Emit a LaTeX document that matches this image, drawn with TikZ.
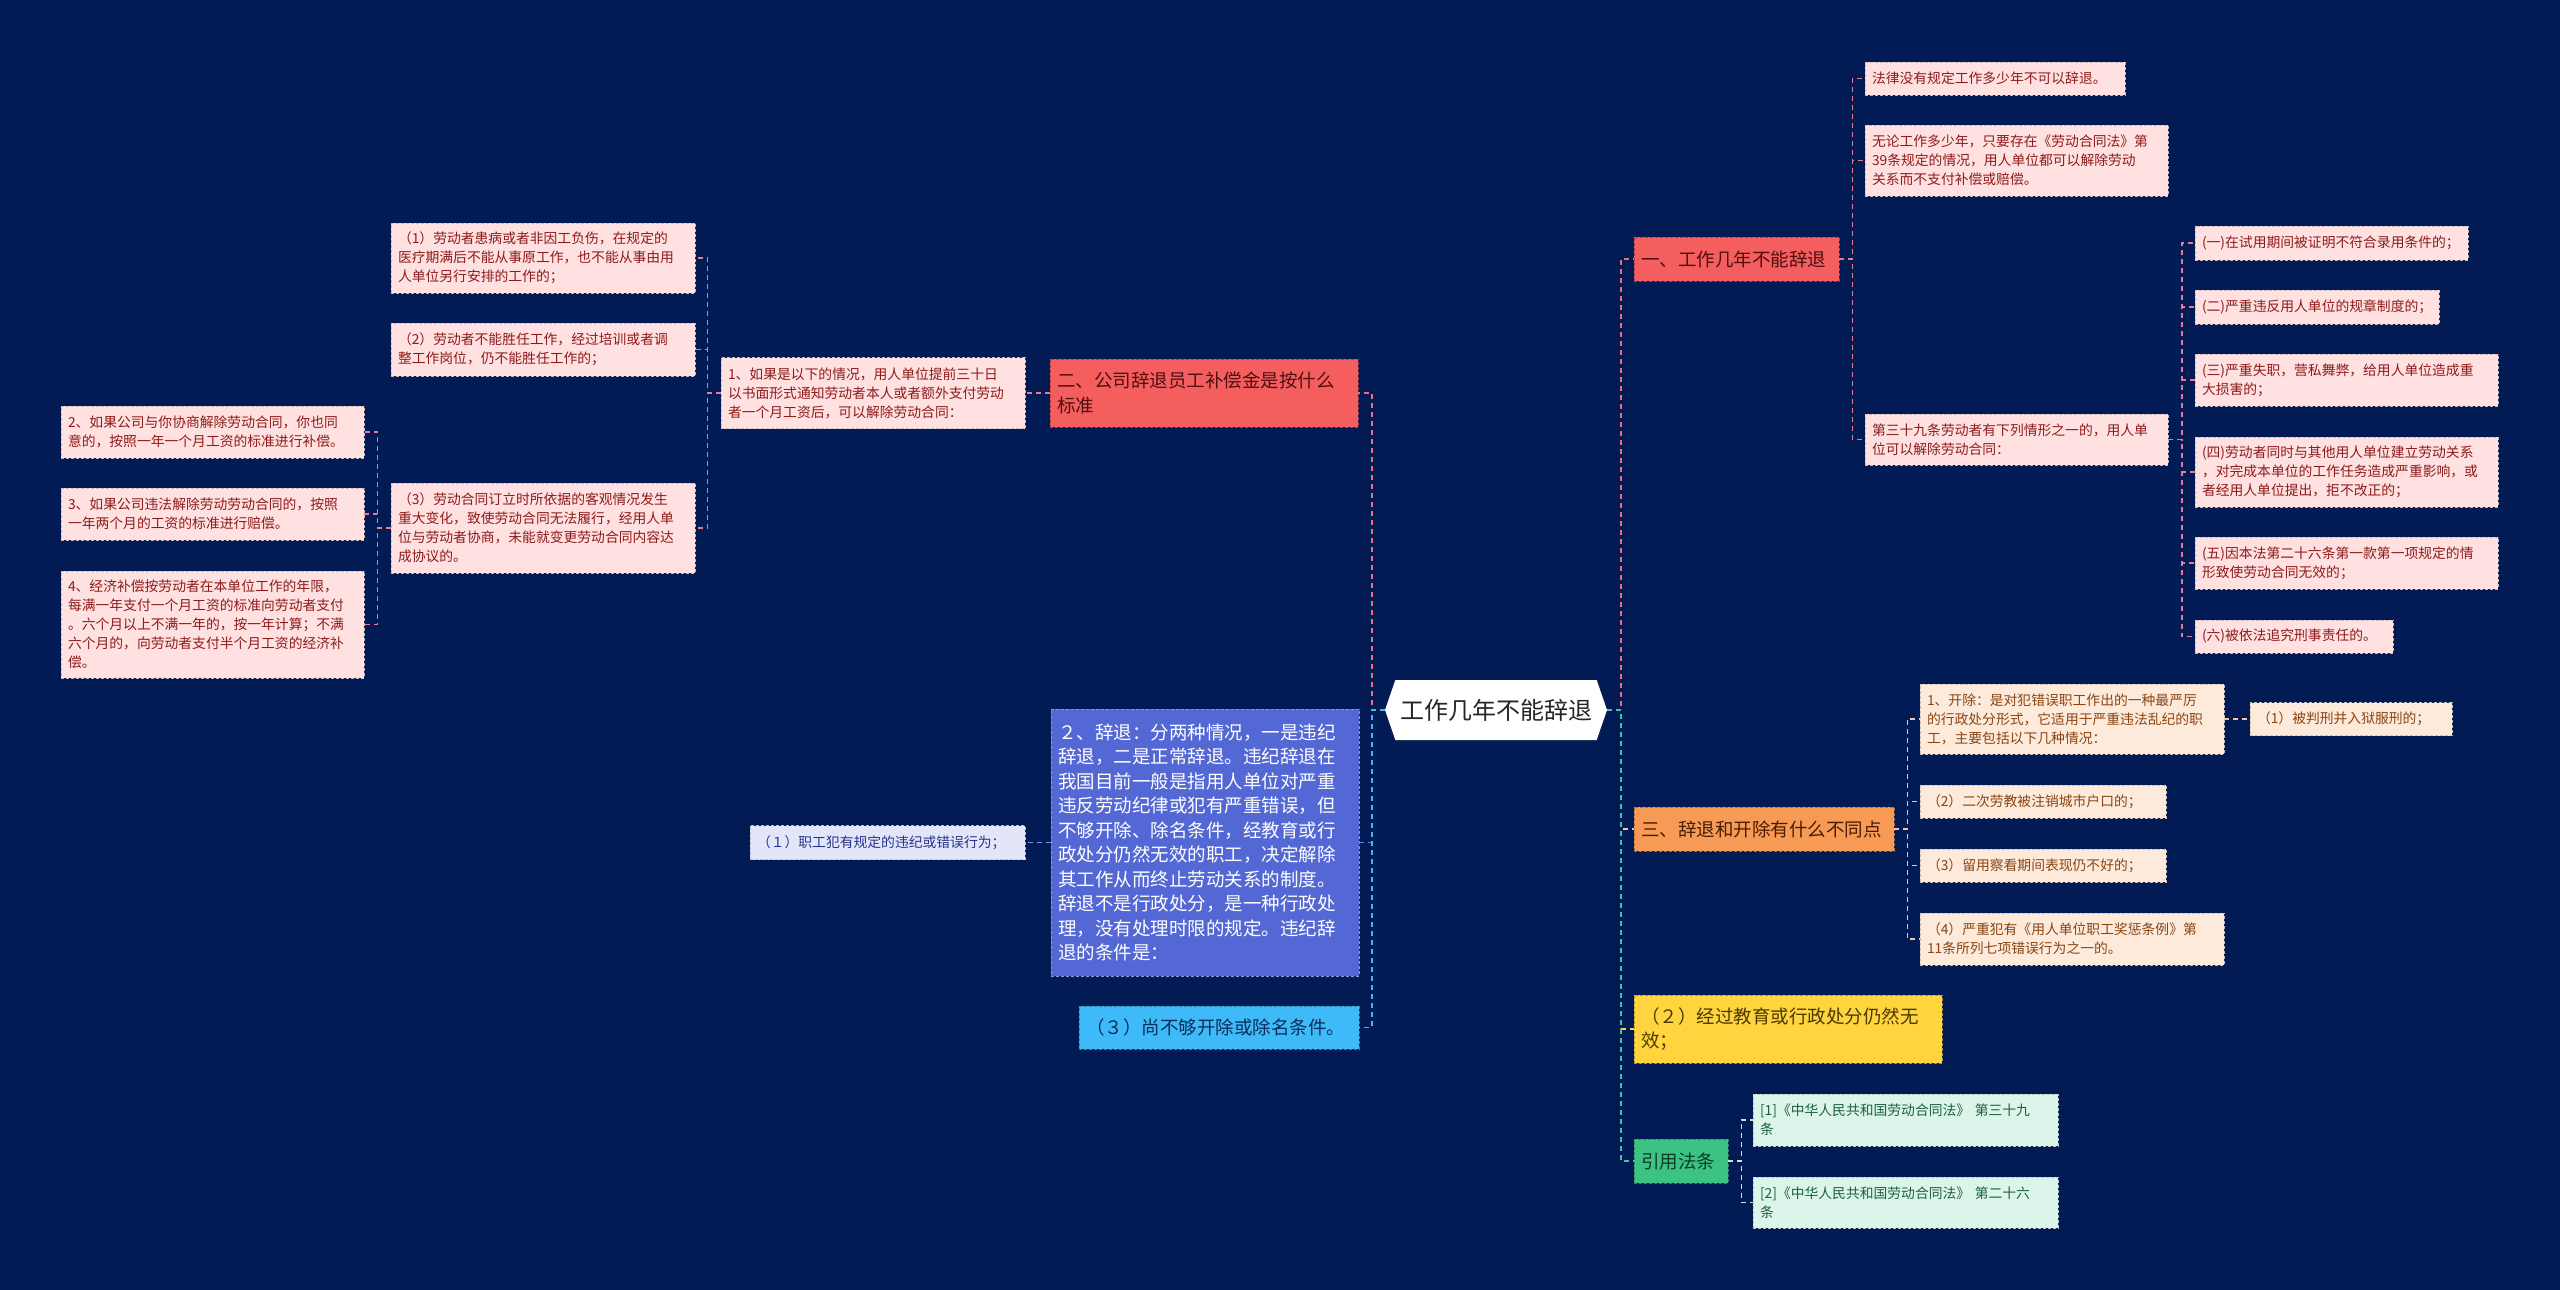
\documentclass[tikz,border=0pt]{standalone}
\usepackage{fontspec}
\setmainfont{Noto Sans CJK SC}
\usetikzlibrary{shapes.symbols,calc}
\definecolor{bg}{RGB}{2,27,84}
\definecolor{redfill}{HTML}{F55E5E}\definecolor{redtext}{HTML}{4D0F0F}
\definecolor{pinkfill}{HTML}{FFE1E1}\definecolor{pinktext}{HTML}{8E1B1B}
\definecolor{bluefill}{HTML}{5468D5}
\definecolor{lavfill}{HTML}{E2E6F8}\definecolor{lavtext}{HTML}{27348B}
\definecolor{cyanfill}{HTML}{3DBAF7}\definecolor{cyantext}{HTML}{0C2D5A}
\definecolor{orangefill}{HTML}{F79A56}\definecolor{orangetext}{HTML}{4A1C00}
\definecolor{peachfill}{HTML}{FDEADB}\definecolor{peachtext}{HTML}{8A4513}
\definecolor{yellowfill}{HTML}{FFD43F}\definecolor{yellowtext}{HTML}{4B3A00}
\definecolor{greenfill}{HTML}{3CC384}\definecolor{greentext}{HTML}{093D22}
\definecolor{mintfill}{HTML}{DCF5EA}\definecolor{minttext}{HTML}{1D6040}
\definecolor{cpink}{HTML}{E8707E}
\definecolor{cpinkl}{HTML}{E27D8E}
\definecolor{cblue}{HTML}{5B7BE0}
\definecolor{ccyan}{HTML}{3DB9F5}
\definecolor{cgreen}{HTML}{3CC7A0}
\definecolor{corange}{HTML}{F5C6A5}
\definecolor{cmint}{HTML}{BFE8D5}
\definecolor{clav}{HTML}{7F92E0}
\tikzset{
  nbox/.style={rectangle, dashed, dash pattern=on 3pt off 2pt, line width=0.9pt, inner xsep=7pt, inner ysep=0pt, align=left, anchor=center},
  smallfont/.style={font=\fontsize{13.8}{19}\selectfont},
  bigfont/.style={font=\fontsize{18.5}{24.5}\selectfont},
  redbox/.style={nbox, bigfont, fill=redfill, draw=redfill!70!black, text=redtext},
  pinkbox/.style={nbox, smallfont, fill=pinkfill, draw=pinkfill!60!gray, text=pinktext},
  bluebox/.style={nbox, bigfont, fill=bluefill, draw=bluefill!70!white, text=white},
  lavbox/.style={nbox, smallfont, fill=lavfill, draw=lavfill!60!gray, text=lavtext},
  cyanbox/.style={nbox, bigfont, fill=cyanfill, draw=cyanfill!70!black, text=cyantext},
  orangebox/.style={nbox, bigfont, fill=orangefill, draw=orangefill!70!black, text=orangetext},
  peachbox/.style={nbox, smallfont, fill=peachfill, draw=peachfill!60!gray, text=peachtext},
  yellowbox/.style={nbox, bigfont, fill=yellowfill, draw=yellowfill!70!black, text=yellowtext},
  greenbox/.style={nbox, bigfont, fill=greenfill, draw=greenfill!70!black, text=greentext},
  mintbox/.style={nbox, smallfont, fill=mintfill, draw=mintfill!60!gray, text=minttext},
  conn/.style={dash pattern=on 5pt off 4pt, line width=1.6pt},
}
\begin{document}
\begin{tikzpicture}[x=1pt,y=-1pt]
\useasboundingbox (0,0) rectangle (2560,1290);
\fill[bg] (0,0) rectangle (2560,1290);

% centre
\node[signal, signal to=west and east, signal pointer angle=142, fill=white, minimum width=222pt, minimum height=60pt, inner sep=0pt, text=black!85, font=\fontsize{24}{28}\selectfont] (C) at (1496,710) {工作几年不能辞退};

% left side
\node[redbox, text width=294pt, minimum height=68pt] (L1) at (1204,393) {二、公司辞退员工补偿金是按什么\\标准};
\node[pinkbox, text width=290pt, minimum height=71pt] (L1a) at (873,393) {1、如果是以下的情况，用人单位提前三十日\\以书面形式通知劳动者本人或者额外支付劳动\\者一个月工资后，可以解除劳动合同：};
\node[pinkbox, text width=290pt, minimum height=70pt] (L1a1) at (543,258) {（1）劳动者患病或者非因工负伤，在规定的\\医疗期满后不能从事原工作，也不能从事由用\\人单位另行安排的工作的；};
\node[pinkbox, text width=290pt, minimum height=53pt] (L1a2) at (543,349.5) {（2）劳动者不能胜任工作，经过培训或者调\\整工作岗位，仍不能胜任工作的；};
\node[pinkbox, text width=290pt, minimum height=90pt] (L1a3) at (543,528) {（3）劳动合同订立时所依据的客观情况发生\\重大变化，致使劳动合同无法履行，经用人单\\位与劳动者协商，未能就变更劳动合同内容达\\成协议的。};
\node[pinkbox, text width=289pt, minimum height=52pt] (P2) at (212.5,432) {2、如果公司与你协商解除劳动合同，你也同\\意的，按照一年一个月工资的标准进行补偿。};
\node[pinkbox, text width=289pt, minimum height=52pt] (P3) at (212.5,514) {3、如果公司违法解除劳动劳动合同的，按照\\一年两个月的工资的标准进行赔偿。};
\node[pinkbox, text width=289pt, minimum height=107pt] (P4) at (212.5,624.5) {4、经济补偿按劳动者在本单位工作的年限，\\每满一年支付一个月工资的标准向劳动者支付\\。六个月以上不满一年的，按一年计算；不满\\六个月的，向劳动者支付半个月工资的经济补\\偿。};
\node[bluebox, text width=294pt, minimum height=267pt] (L2) at (1205,842.5) {２、辞退：分两种情况，一是违纪\\辞退，二是正常辞退。违纪辞退在\\我国目前一般是指用人单位对严重\\违反劳动纪律或犯有严重错误，但\\不够开除、除名条件，经教育或行\\政处分仍然无效的职工，决定解除\\其工作从而终止劳动关系的制度。\\辞退不是行政处分，是一种行政处\\理，没有处理时限的规定。违纪辞\\退的条件是：};
\node[lavbox, text width=261pt, minimum height=34pt] (L2a) at (887.5,842.5) {（１）职工犯有规定的违纪或错误行为；};
\node[cyanbox, text width=266pt, minimum height=43pt] (L3) at (1219,1027.5) {（３）尚不够开除或除名条件。};

% right side
\node[redbox, text width=191pt, minimum height=44pt] (R1) at (1736.5,259) {一、工作几年不能辞退};
\node[pinkbox, text width=246pt, minimum height=33pt] (R1a) at (1995,78.5) {法律没有规定工作多少年不可以辞退。};
\node[pinkbox, text width=289pt, minimum height=71pt] (R1b) at (2016.5,160.5) {无论工作多少年，只要存在《劳动合同法》第\\39条规定的情况，用人单位都可以解除劳动\\关系而不支付补偿或赔偿。};
\node[pinkbox, text width=289pt, minimum height=51pt] (R1c) at (2016.5,439.5) {第三十九条劳动者有下列情形之一的，用人单\\位可以解除劳动合同：};
\node[pinkbox, text width=259pt, minimum height=34pt] (R1c1) at (2331.5,243) {(一)在试用期间被证明不符合录用条件的；};
\node[pinkbox, text width=230pt, minimum height=34pt] (R1c2) at (2317,307) {(二)严重违反用人单位的规章制度的；};
\node[pinkbox, text width=289pt, minimum height=52pt] (R1c3) at (2346.5,380) {(三)严重失职，营私舞弊，给用人单位造成重\\大损害的；};
\node[pinkbox, text width=289pt, minimum height=70pt] (R1c4) at (2346.5,472) {(四)劳动者同时与其他用人单位建立劳动关系\\，对完成本单位的工作任务造成严重影响，或\\者经用人单位提出，拒不改正的；};
\node[pinkbox, text width=289pt, minimum height=52pt] (R1c5) at (2346.5,563) {(五)因本法第二十六条第一款第一项规定的情\\形致使劳动合同无效的；};
\node[pinkbox, text width=184pt, minimum height=33pt] (R1c6) at (2294,636.5) {(六)被依法追究刑事责任的。};

\node[orangebox, text width=246pt, minimum height=44pt] (R3) at (1764,829) {三、辞退和开除有什么不同点};
\node[peachbox, text width=290pt, minimum height=70pt] (R3a) at (2072,719) {1、开除：是对犯错误职工作出的一种最严厉\\的行政处分形式，它适用于严重违法乱纪的职\\工，主要包括以下几种情况：};
\node[peachbox, text width=188pt, minimum height=33pt] (R3a1) at (2351,719) {（1）被判刑并入狱服刑的；};
\node[peachbox, text width=232pt, minimum height=33pt] (R3b) at (2043,801.5) {（2）二次劳教被注销城市户口的；};
\node[peachbox, text width=232pt, minimum height=33pt] (R3c) at (2043,865.5) {（3）留用察看期间表现仍不好的；};
\node[peachbox, text width=290pt, minimum height=52pt] (R3d) at (2072,939) {（4）严重犯有《用人单位职工奖惩条例》第\\11条所列七项错误行为之一的。};

\node[yellowbox, text width=294pt, minimum height=68pt] (R4) at (1788,1029) {（２）经过教育或行政处分仍然无\\效；};
\node[greenbox, text width=80pt, minimum height=44pt] (R5) at (1681,1161) {引用法条};
\node[mintbox, text width=291pt, minimum height=52pt] (R5a) at (1905.5,1120) {[1]《中华人民共和国劳动合同法》 第三十九\\条};
\node[mintbox, text width=291pt, minimum height=51pt] (R5b) at (1905.5,1202.5) {[2]《中华人民共和国劳动合同法》 第二十六\\条};

% connectors from centre, left
\draw[conn, cpink] (C.west) -- ++(-13,0) |- (L1.east);
\draw[conn, cblue] (C.west) -- ++(-13,0) |- (L2.east);
\draw[conn, ccyan] (C.west) -- ++(-13,0) |- (L3.east);
% connectors from centre, right
\draw[conn, cpink] (C.east) -- ++(14,0) |- (R1.west);
\draw[conn, corange] (C.east) -- ++(14,0) |- (R3.west);
\draw[conn, yellowfill] (C.east) -- ++(14,0) |- (R4.west);
\draw[conn, cgreen] (C.east) -- ++(14,0) |- (R5.west);

% left subtrees
\draw[conn, cpinkl] (L1.west) -- (L1a.east);
\foreach \n in {L1a1,L1a2,L1a3}{\draw[conn, cpinkl] (L1a.west) -- ++(-13,0) |- (\n.east);}
\foreach \n in {P2,P3,P4}{\draw[conn, cpinkl] (L1a3.west) -- ++(-13,0) |- (\n.east);}
\draw[conn, clav] (L2.west) -- (L2a.east);

% right subtrees
\foreach \n in {R1a,R1b,R1c}{\draw[conn, cpinkl] (R1.east) -- ++(13,0) |- (\n.west);}
\foreach \n in {R1c1,R1c2,R1c3,R1c4,R1c5,R1c6}{\draw[conn, cpinkl] (R1c.east) -- ++(13.5,0) |- (\n.west);}
\foreach \n in {R3a,R3b,R3c,R3d}{\draw[conn, corange] (R3.east) -- ++(13,0) |- (\n.west);}
\draw[conn, corange] (R3a.east) -- (R3a1.west);
\foreach \n in {R5a,R5b}{\draw[conn, cmint] (R5.east) -- ++(13,0) |- (\n.west);}
\end{tikzpicture}
\end{document}
